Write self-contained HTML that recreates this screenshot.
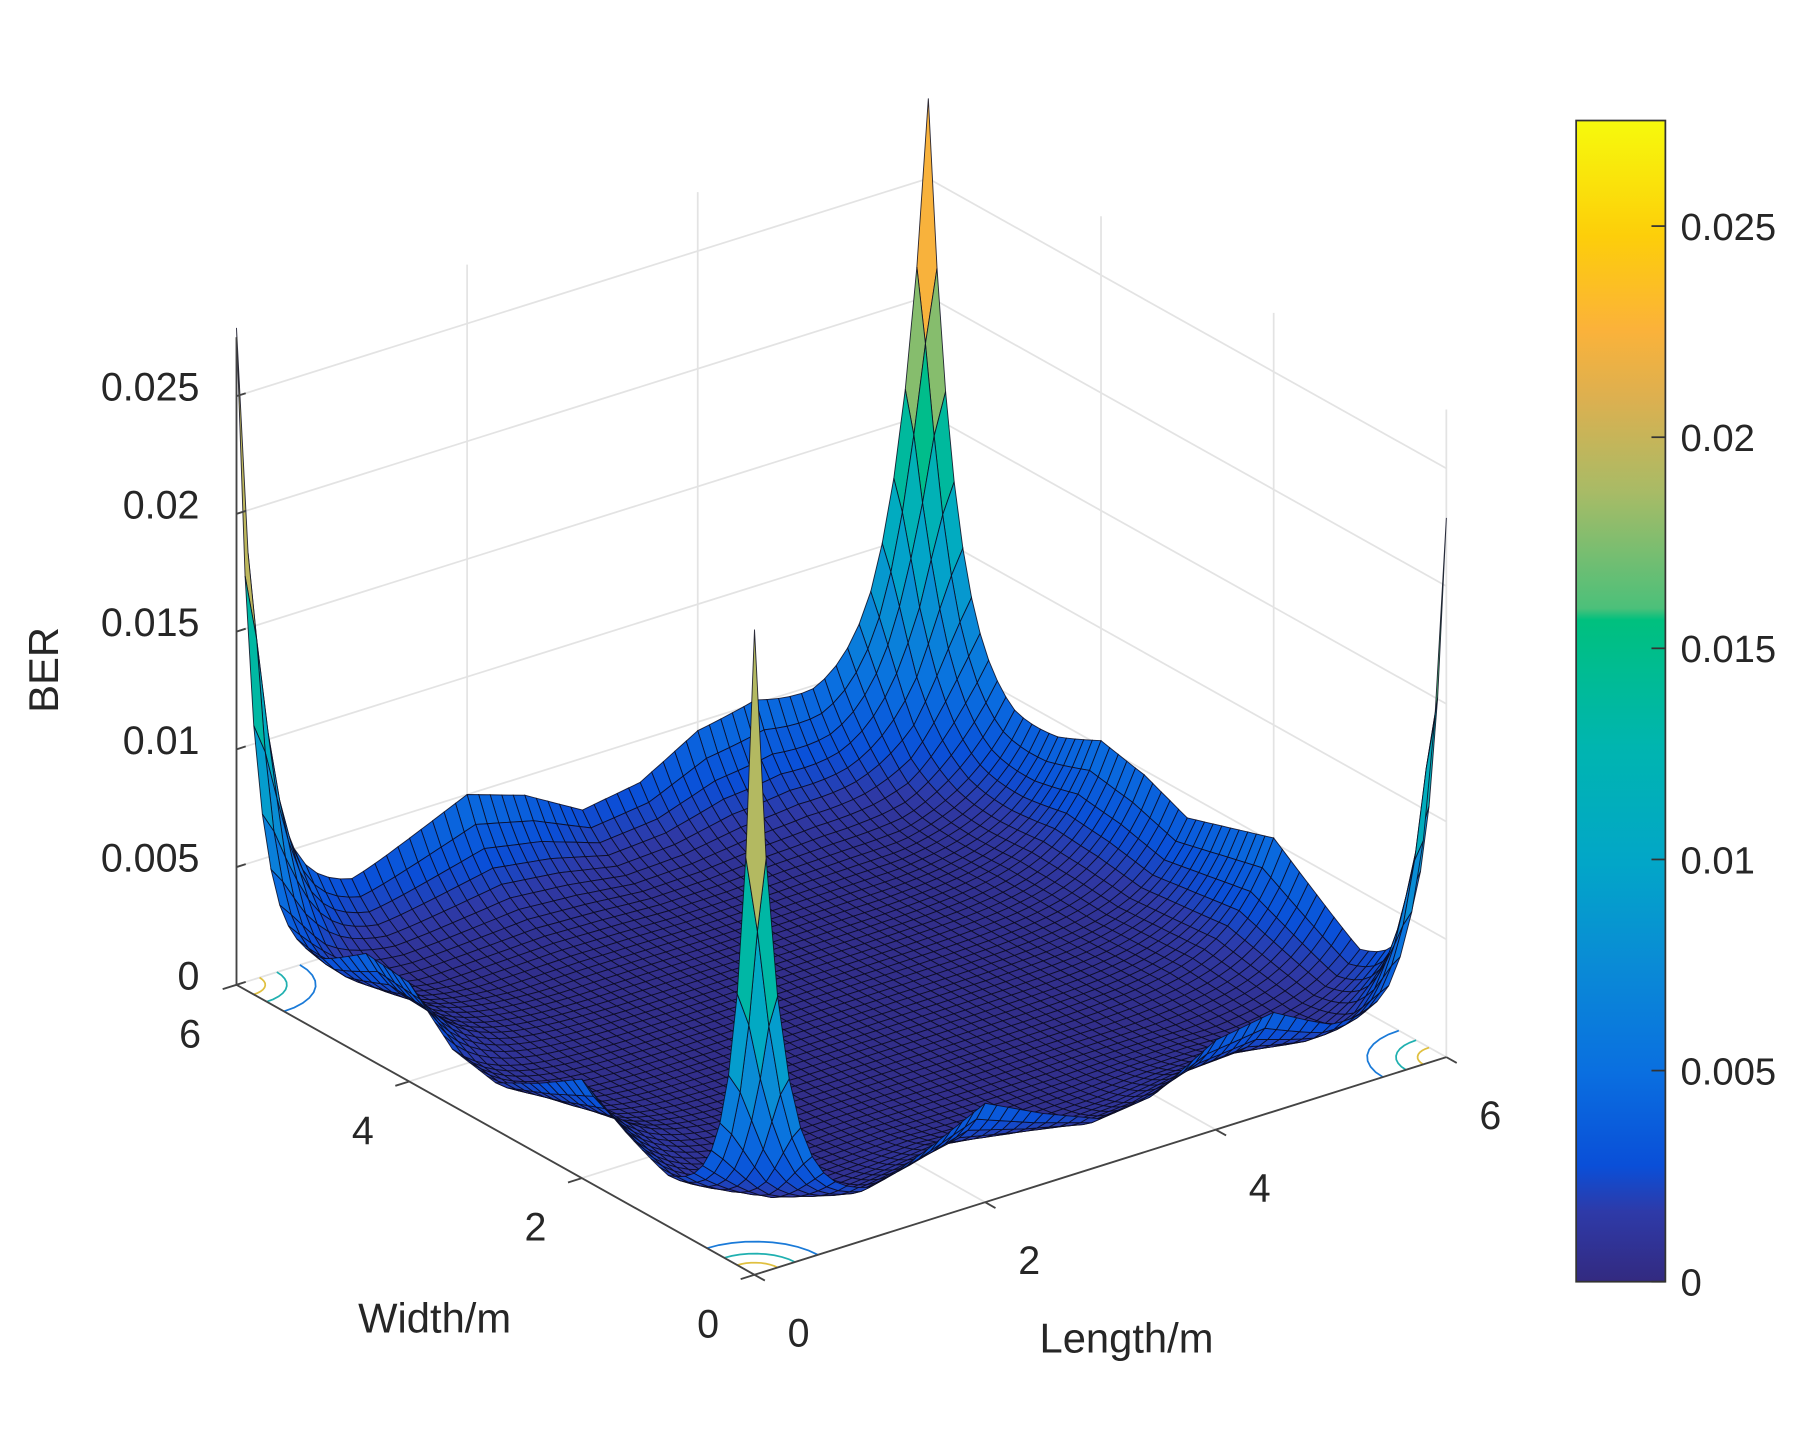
<!DOCTYPE html>
<html><head><meta charset="utf-8"><style>
html,body{margin:0;padding:0;background:#fff;}
svg{display:block;font-family:"Liberation Sans",Arial,sans-serif;}
</style></head><body>
<svg id="chart" width="1808" height="1437" viewBox="0 0 1560 1240" xmlns="http://www.w3.org/2000/svg">
<defs>
<linearGradient id="cbg" x1="0" y1="1" x2="0" y2="0">
<stop offset="0" stop-color="#332a80"/><stop offset="0.06" stop-color="#2e3aa8"/><stop offset="0.1" stop-color="#0a4fd8"/>
<stop offset="0.18" stop-color="#0a6fe0"/><stop offset="0.27" stop-color="#0a8ad6"/><stop offset="0.36" stop-color="#02a6c8"/>
<stop offset="0.46" stop-color="#00b5b0"/><stop offset="0.57" stop-color="#00c07e"/><stop offset="0.58" stop-color="#4cc07a"/>
<stop offset="0.68" stop-color="#a8bb66"/><stop offset="0.76" stop-color="#dcb050"/><stop offset="0.82" stop-color="#fbb23a"/>
<stop offset="0.9" stop-color="#fdce0a"/><stop offset="1" stop-color="#f6fa0c"/>
</linearGradient>
</defs>
<g id="grid"></g>
<g id="floor"></g>
<g id="surf"></g>
<g id="axes"></g>
<g>
<rect x="1360" y="104" width="77" height="1002" fill="url(#cbg)" stroke="#333" stroke-width="1.5"/>
<g id="cbticks"></g>
</g>
<text transform="translate(50,578) rotate(-90)" text-anchor="middle" font-size="36" fill="#262626">BER</text>
<text x="375" y="1150" text-anchor="middle" font-size="36" fill="#262626">Width/m</text>
<text x="972" y="1167" text-anchor="middle" font-size="36" fill="#262626">Length/m</text>
</svg>
<script>
// ---- data ----
const zTicks = [0, 0.005, 0.01, 0.015, 0.02, 0.025];
const zTickLabels = ["0", "0.005", "0.01", "0.015", "0.02", "0.025"];
const xyTicks = [0, 2, 4, 6];
const xyTickLabels = ["0", "2", "4", "6"];
const floorBER = 0.0004;
// corner peaks: (L,W) = (0,0), (6,0), (0,6), (6,6)
const cornerL = [0, 6, 0, 6];
const cornerW = [0, 0, 6, 6];
const cornerPeak = [0.025, 0.0195, 0.0245, 0.0245];
const cornerSpread = [0.2, 0.2, 0.2, 0.3];
// wall profiles sampled every 0.5 m (0..6)
const wallW6 = [0.003,0.0026,0.0024,0.0035,0.0046,0.0038,0.0024,0.0028,0.0042,0.0046,0.0036,0.0032,0.0035];
const wallL6 = [0.003,0.0022,0.002,0.0034,0.0048,0.0042,0.0036,0.0044,0.0048,0.0038,0.0032,0.0032,0.0035];
const wallW0 = [0.002,0.0018,0.0016,0.0026,0.0038,0.0026,0.0016,0.002,0.0034,0.0038,0.0024,0.0018,0.002];
const wallL0 = [0.002,0.0018,0.0016,0.0026,0.0038,0.0026,0.0016,0.002,0.0038,0.004,0.0026,0.002,0.002];

// ---- axis functions ----
const ZMAX = 0.0275;
function px(L,W){ return 651 + 99.5*L - 74.5*W; }
function py(L,W,z){ return 1100 - 31.3*L - 41.7*W - (z||0)*20320; }
function prof(a,t){ const f=t/0.5, i=Math.min(11,Math.floor(f)), r=f-i; return a[i]*(1-r)+a[i+1]*r; }
function zval(L,W){
  const dec=0.38;
  let w=Math.max(prof(wallW6,L)*Math.exp(-(6-W)/dec), prof(wallW0,L)*Math.exp(-W/dec),
                 prof(wallL6,W)*Math.exp(-(6-L)/dec), prof(wallL0,W)*Math.exp(-L/dec));
  let z=floorBER+w;
  for(let k=0;k<4;k++){const d=Math.hypot(L-cornerL[k],W-cornerW[k]); z+=cornerPeak[k]*Math.exp(-d/cornerSpread[k]);}
  return z;
}
const cstops=[[0,[51,42,128]],[0.06,[46,58,168]],[0.1,[10,79,216]],[0.18,[10,111,224]],[0.27,[10,138,214]],[0.36,[2,166,200]],[0.46,[0,181,176]],[0.57,[0,192,126]],[0.58,[76,192,122]],[0.68,[168,187,102]],[0.76,[220,176,80]],[0.82,[251,178,58]],[0.9,[253,206,10]],[1,[246,250,12]]];
function cmap(v){ v=Math.max(0,Math.min(1,v)); for(let i=1;i<cstops.length;i++){ if(v<=cstops[i][0]){const a=cstops[i-1],b=cstops[i],r=(v-a[0])/(b[0]-a[0]); return 'rgb('+a[1].map((c,j)=>Math.round(c+(b[1][j]-c)*r)).join(',')+')';}} return 'rgb(246,250,12)'; }
const NS='http://www.w3.org/2000/svg';
function mk(tag,attrs,parent){const e=document.createElementNS(NS,tag);for(const k in attrs)e.setAttribute(k,attrs[k]);parent.appendChild(e);return e;}

// ---- grid on back walls ----
const grid=document.getElementById('grid');
function gl(a,b){const l=mk('line',{x1:px(a[0],a[1]),y1:py(a[0],a[1],a[2]),x2:px(b[0],b[1]),y2:py(b[0],b[1],b[2]),stroke:'#e3e3e3','stroke-width':1.5},grid);

}
zTicks.forEach(z=>{ if(z>0){gl([0,6,z],[6,6,z]);gl([6,6,z],[6,0,z]);} });
xyTicks.forEach(t=>{ gl([t,6,0],[t,6,ZMAX]); gl([6,t,0],[6,t,ZMAX]); gl([t,0,0],[t,6,0]); gl([0,t,0],[6,t,0]); });
gl([0,6,ZMAX],[0,6,0]);

// ---- floor contours near corners ----
const fl=document.getElementById('floor');
[[0,0],[6,0],[0,6],[6,6]].forEach(c=>{[0.2,0.35,0.55].forEach((r,i)=>{
  let d='';for(let a=0;a<=90;a+=10){const rad=a*Math.PI/180;const L=c[0]+(c[0]?-1:1)*r*Math.cos(rad),W=c[1]+(c[1]?-1:1)*r*Math.sin(rad);d+=(a?'L':'M')+px(L,W).toFixed(1)+','+py(L,W,0).toFixed(1);}
  const p=mk('path',{d:d,fill:'none',stroke:['#e0c040','#20b0b0','#1a7ad8'][i],'stroke-width':1.5},fl);
  
  
});});

// ---- surface ----
const surf=document.getElementById('surf');
const N=60, st=6/N, Z=[];
for(let i=0;i<=N;i++){Z.push([]);for(let j=0;j<=N;j++)Z[i].push(zval(i*st,j*st));}
const quads=[];
for(let i=0;i<N;i++)for(let j=0;j<N;j++)quads.push([i,j,31.3*(i+0.5)+41.7*(j+0.5)]);
quads.sort((a,b)=>b[2]-a[2]);
let frag=document.createDocumentFragment();
quads.forEach(q=>{const [i,j]=q;const pts=[[i,j],[i+1,j],[i+1,j+1],[i,j+1]];
  const zs=pts.map(p=>Z[p[0]][p[1]]);const za=(zs[0]+zs[1]+zs[2]+zs[3])/4;
  const s=pts.map((p,k)=>px(p[0]*st,p[1]*st).toFixed(1)+','+py(p[0]*st,p[1]*st,zs[k]).toFixed(1)).join(' ');
  const e=document.createElementNS(NS,'polygon');
  e.setAttribute('points',s);e.setAttribute('fill',cmap(za/ZMAX));
  e.setAttribute('stroke','#0a0a20');e.setAttribute('stroke-width','0.8');e.setAttribute('stroke-opacity','0.85');
  
  
  frag.appendChild(e);});
surf.appendChild(frag);

// ---- axes ----
const ax=document.getElementById('axes');
function al(a,b,name){const l=mk('line',{x1:px(a[0],a[1]),y1:py(a[0],a[1],a[2]),x2:px(b[0],b[1]),y2:py(b[0],b[1],b[2]),stroke:'#444','stroke-width':1.6},ax);

}
al([0,6,0],[0,6,ZMAX],'z-axis-line');
al([0,0,0],[6,0,0],'length-axis-line');
al([0,0,0],[0,6,0],'width-axis-line');
function tx(x,y,s,anchor,name){const t=mk('text',{x:x,y:y,'text-anchor':anchor,'font-size':34,fill:'#262626'},ax);t.textContent=s;

}
zTicks.forEach((z,k)=>{ al([0,6,z],[0.08,6,z],'z-tick'); tx(172,py(0,6,z)+4,zTickLabels[k],'end','z-tick-label'); });
xyTicks.forEach((t,k)=>{
  al([t,0,0],[t,-0.12,0],'length-tick');
  tx(px(t,0)+38,py(t,0,0)+62,xyTickLabels[k],'middle','length-tick-label');
  al([0,t,0],[-0.12,t,0],'width-tick');
  tx(px(0,t)-40,py(0,t,0)+54,xyTickLabels[k],'middle','width-tick-label');
});

// ---- colorbar ticks ----
const cb=document.getElementById('cbticks');
zTicks.forEach((z,k)=>{const y=1106-z/ZMAX*1002;
  const l=mk('line',{x1:1425,y1:y,x2:1437,y2:y,stroke:'#333','stroke-width':1.5},cb);
  
  
  const t=mk('text',{x:1450,y:y+12,'font-size':33,fill:'#262626'},cb);t.textContent=zTickLabels[k];
  
  
});
</script>
</body></html>
